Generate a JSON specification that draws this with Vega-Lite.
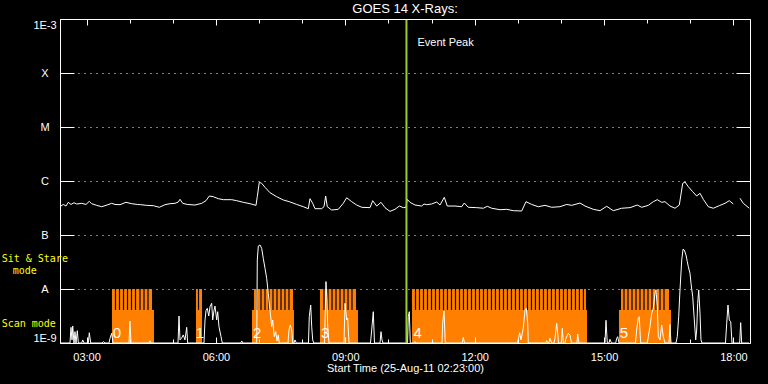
{
  "$schema": "https://vega.github.io/schema/vega-lite/v6.json",
  "autosize": {"type": "none"},
  "width": 690,
  "height": 324,
  "padding": {"left": 60, "top": 19, "right": 18, "bottom": 41},
  "background": "black",
  "title": {"text": "GOES 14 X-Rays:", "color": "white", "font": "Liberation Sans", "fontSize": 13, "fontWeight": "normal", "anchor": "middle", "offset": 2},
  "datasets": {
    "blocks": [
      {"id": "0", "t0": 3.589, "t1": 4.563, "s0": 3.589, "s1": 4.517, "lx": 3.705},
      {"id": "1", "t0": 5.537, "t1": 5.676, "s0": 5.537, "s1": 5.676, "lx": 5.630},
      {"id": "2", "t0": 6.835, "t1": 7.809, "s0": 6.882, "s1": 7.786, "lx": 6.956},
      {"id": "3", "t0": 8.412, "t1": 9.293, "s0": 8.412, "s1": 9.247, "lx": 8.535},
      {"id": "4", "t0": 10.546, "t1": 14.604, "s0": 10.546, "s1": 14.580, "lx": 10.677},
      {"id": "5", "t0": 15.345, "t1": 16.552, "s0": 15.392, "s1": 16.505, "lx": 15.457}
    ],
    "gaps": [
      {"g": 3.670}, {"g": 3.763}, {"g": 3.856}, {"g": 3.949}, {"g": 4.041}, {"g": 4.134}, {"g": 4.238}, {"g": 4.331}, {"g": 4.424},
      {"g": 5.595},
      {"g": 6.951}, {"g": 7.044}, {"g": 7.137}, {"g": 7.229}, {"g": 7.322}, {"g": 7.415}, {"g": 7.508}, {"g": 7.600}, {"g": 7.693},
      {"g": 8.505}, {"g": 8.598}, {"g": 8.691}, {"g": 8.783}, {"g": 8.876}, {"g": 8.969}, {"g": 9.062}, {"g": 9.154},
      {"g": 10.627}, {"g": 10.719}, {"g": 10.812}, {"g": 10.905}, {"g": 10.998}, {"g": 11.090}, {"g": 11.183}, {"g": 11.276}, {"g": 11.368}, {"g": 11.461},
      {"g": 11.554}, {"g": 11.647}, {"g": 11.739}, {"g": 11.832}, {"g": 11.925}, {"g": 12.018}, {"g": 12.110}, {"g": 12.203}, {"g": 12.296}, {"g": 12.388},
      {"g": 12.481}, {"g": 12.574}, {"g": 12.667}, {"g": 12.759}, {"g": 12.852}, {"g": 12.945}, {"g": 13.038}, {"g": 13.130}, {"g": 13.223}, {"g": 13.316},
      {"g": 13.408}, {"g": 13.501}, {"g": 13.594}, {"g": 13.687}, {"g": 13.779}, {"g": 13.872}, {"g": 13.965}, {"g": 14.058}, {"g": 14.150}, {"g": 14.243},
      {"g": 14.336}, {"g": 14.428}, {"g": 14.521},
      {"g": 15.461}, {"g": 15.554}, {"g": 15.647}, {"g": 15.740}, {"g": 15.832}, {"g": 15.925}, {"g": 16.018}, {"g": 16.110}, {"g": 16.203}, {"g": 16.296}, {"g": 16.389}
    ],
    "long": [
      {"s": "a", "t": 2.406, "v": 3.44e-7}, {"s": "a", "t": 2.460, "v": 3.68e-7}, {"s": "a", "t": 2.522, "v": 3.44e-7}, {"s": "a", "t": 2.576, "v": 4.03e-7},
      {"s": "a", "t": 2.638, "v": 3.68e-7}, {"s": "a", "t": 2.708, "v": 3.96e-7}, {"s": "a", "t": 2.771, "v": 3.75e-7}, {"s": "a", "t": 2.887, "v": 3.86e-7},
      {"s": "a", "t": 2.986, "v": 3.68e-7}, {"s": "a", "t": 3.063, "v": 4.20e-7}, {"s": "a", "t": 3.118, "v": 3.80e-7}, {"s": "a", "t": 3.234, "v": 3.54e-7},
      {"s": "a", "t": 3.350, "v": 3.34e-7}, {"s": "a", "t": 3.450, "v": 3.54e-7}, {"s": "a", "t": 3.582, "v": 3.86e-7}, {"s": "a", "t": 3.659, "v": 3.68e-7},
      {"s": "a", "t": 3.775, "v": 3.64e-7}, {"s": "a", "t": 3.914, "v": 4.03e-7}, {"s": "a", "t": 4.046, "v": 3.80e-7}, {"s": "a", "t": 4.176, "v": 3.68e-7},
      {"s": "a", "t": 4.255, "v": 3.64e-7}, {"s": "a", "t": 4.394, "v": 3.54e-7}, {"s": "a", "t": 4.547, "v": 3.49e-7}, {"s": "a", "t": 4.686, "v": 3.26e-7},
      {"s": "a", "t": 4.818, "v": 3.64e-7}, {"s": "a", "t": 4.934, "v": 3.80e-7}, {"s": "a", "t": 5.050, "v": 3.86e-7}, {"s": "a", "t": 5.127, "v": 4.08e-7},
      {"s": "a", "t": 5.166, "v": 4.58e-7}, {"s": "a", "t": 5.229, "v": 3.86e-7}, {"s": "a", "t": 5.335, "v": 3.68e-7}, {"s": "a", "t": 5.514, "v": 3.59e-7},
      {"s": "a", "t": 5.669, "v": 3.86e-7}, {"s": "a", "t": 5.769, "v": 4.32e-7}, {"s": "a", "t": 5.845, "v": 5.27e-7}, {"s": "a", "t": 5.938, "v": 5.12e-7},
      {"s": "a", "t": 6.054, "v": 4.70e-7}, {"s": "a", "t": 6.170, "v": 4.51e-7}, {"s": "a", "t": 6.365, "v": 4.51e-7}, {"s": "a", "t": 6.481, "v": 4.32e-7},
      {"s": "a", "t": 6.634, "v": 4.03e-7}, {"s": "a", "t": 6.789, "v": 3.80e-7}, {"s": "a", "t": 6.928, "v": 3.54e-7}, {"s": "a", "t": 6.958, "v": 5.12e-7},
      {"s": "a", "t": 7.005, "v": 9.46e-7}, {"s": "a", "t": 7.060, "v": 9.06e-7}, {"s": "a", "t": 7.137, "v": 7.64e-7}, {"s": "a", "t": 7.253, "v": 6.07e-7},
      {"s": "a", "t": 7.408, "v": 5.12e-7}, {"s": "a", "t": 7.561, "v": 4.45e-7}, {"s": "a", "t": 7.700, "v": 4.14e-7}, {"s": "a", "t": 7.872, "v": 3.68e-7},
      {"s": "a", "t": 8.025, "v": 3.34e-7}, {"s": "a", "t": 8.141, "v": 3.07e-7}, {"s": "a", "t": 8.180, "v": 4.70e-7}, {"s": "a", "t": 8.243, "v": 3.86e-7},
      {"s": "a", "t": 8.296, "v": 3.07e-7}, {"s": "a", "t": 8.451, "v": 3.07e-7}, {"s": "a", "t": 8.505, "v": 3.34e-7}, {"s": "a", "t": 8.544, "v": 5.27e-7},
      {"s": "a", "t": 8.581, "v": 3.34e-7}, {"s": "a", "t": 8.683, "v": 2.90e-7}, {"s": "a", "t": 8.836, "v": 2.99e-7}, {"s": "a", "t": 8.952, "v": 3.86e-7},
      {"s": "a", "t": 9.031, "v": 4.90e-7}, {"s": "a", "t": 9.147, "v": 4.14e-7}, {"s": "a", "t": 9.263, "v": 3.59e-7}, {"s": "a", "t": 9.379, "v": 3.26e-7},
      {"s": "a", "t": 9.572, "v": 3.21e-7}, {"s": "a", "t": 9.634, "v": 4.32e-7}, {"s": "a", "t": 9.727, "v": 3.44e-7}, {"s": "a", "t": 9.827, "v": 4.03e-7},
      {"s": "a", "t": 9.919, "v": 3.21e-7}, {"s": "a", "t": 10.035, "v": 2.74e-7}, {"s": "a", "t": 10.151, "v": 2.99e-7}, {"s": "a", "t": 10.251, "v": 3.44e-7},
      {"s": "a", "t": 10.344, "v": 3.21e-7}, {"s": "a", "t": 10.406, "v": 3.26e-7}, {"s": "a", "t": 10.436, "v": 4.58e-7}, {"s": "a", "t": 10.499, "v": 4.03e-7},
      {"s": "a", "t": 10.615, "v": 3.59e-7}, {"s": "a", "t": 10.770, "v": 3.44e-7}, {"s": "a", "t": 10.824, "v": 3.75e-7}, {"s": "a", "t": 10.886, "v": 3.64e-7},
      {"s": "a", "t": 11.002, "v": 3.75e-7}, {"s": "a", "t": 11.118, "v": 4.08e-7}, {"s": "a", "t": 11.195, "v": 3.59e-7}, {"s": "a", "t": 11.294, "v": 4.99e-7},
      {"s": "a", "t": 11.364, "v": 3.44e-7}, {"s": "a", "t": 11.543, "v": 3.44e-7}, {"s": "a", "t": 11.698, "v": 3.34e-7}, {"s": "a", "t": 11.758, "v": 3.91e-7},
      {"s": "a", "t": 11.851, "v": 3.26e-7}, {"s": "a", "t": 12.046, "v": 3.21e-7}, {"s": "a", "t": 12.199, "v": 3.13e-7}, {"s": "a", "t": 12.292, "v": 3.40e-7},
      {"s": "a", "t": 12.394, "v": 3.13e-7}, {"s": "a", "t": 12.586, "v": 2.94e-7}, {"s": "a", "t": 12.741, "v": 2.99e-7}, {"s": "a", "t": 12.895, "v": 2.82e-7},
      {"s": "a", "t": 13.089, "v": 2.78e-7}, {"s": "a", "t": 13.189, "v": 4.14e-7}, {"s": "a", "t": 13.321, "v": 3.68e-7}, {"s": "a", "t": 13.474, "v": 3.34e-7},
      {"s": "a", "t": 13.630, "v": 3.54e-7}, {"s": "a", "t": 13.785, "v": 3.26e-7}, {"s": "a", "t": 13.977, "v": 3.34e-7}, {"s": "a", "t": 14.133, "v": 3.68e-7},
      {"s": "a", "t": 14.249, "v": 3.54e-7}, {"s": "a", "t": 14.325, "v": 3.68e-7}, {"s": "a", "t": 14.441, "v": 3.91e-7}, {"s": "a", "t": 14.557, "v": 3.44e-7},
      {"s": "a", "t": 14.750, "v": 2.99e-7}, {"s": "a", "t": 14.905, "v": 2.82e-7}, {"s": "a", "t": 15.060, "v": 3.40e-7}, {"s": "a", "t": 15.213, "v": 2.82e-7},
      {"s": "a", "t": 15.408, "v": 3.13e-7}, {"s": "a", "t": 15.600, "v": 3.21e-7}, {"s": "a", "t": 15.770, "v": 3.59e-7}, {"s": "a", "t": 15.871, "v": 3.26e-7},
      {"s": "a", "t": 16.025, "v": 3.54e-7}, {"s": "a", "t": 16.141, "v": 4.14e-7}, {"s": "a", "t": 16.233, "v": 4.51e-7}, {"s": "a", "t": 16.335, "v": 4.03e-7},
      {"s": "a", "t": 16.412, "v": 4.14e-7}, {"s": "a", "t": 16.528, "v": 3.44e-7}, {"s": "a", "t": 16.644, "v": 3.13e-7}, {"s": "a", "t": 16.744, "v": 3.59e-7},
      {"s": "a", "t": 16.823, "v": 9.06e-7}, {"s": "a", "t": 16.876, "v": 9.58e-7}, {"s": "a", "t": 16.953, "v": 7.84e-7}, {"s": "a", "t": 17.054, "v": 6.34e-7},
      {"s": "a", "t": 17.147, "v": 5.27e-7}, {"s": "a", "t": 17.224, "v": 5.92e-7}, {"s": "a", "t": 17.300, "v": 4.58e-7}, {"s": "a", "t": 17.416, "v": 3.34e-7},
      {"s": "a", "t": 17.532, "v": 3.13e-7}, {"s": "a", "t": 17.671, "v": 3.49e-7}, {"s": "a", "t": 17.803, "v": 3.86e-7}, {"s": "a", "t": 17.903, "v": 4.32e-7},
      {"s": "a", "t": 17.996, "v": 3.75e-7},
      {"s": "b", "t": 18.151, "v": 4.78e-7}, {"s": "b", "t": 18.228, "v": 3.86e-7}, {"s": "b", "t": 18.367, "v": 3.13e-7}
    ],
    "short": [
      {"t": 2.406, "v": 1e-9}, {"t": 2.615, "v": 1e-9}, {"t": 2.638, "v": 1.95e-9}, {"t": 2.662, "v": 1.14e-9}, {"t": 2.678, "v": 2.07e-9},
      {"t": 2.708, "v": 1e-9}, {"t": 2.731, "v": 1.62e-9}, {"t": 2.754, "v": 1e-9}, {"t": 2.785, "v": 1.69e-9}, {"t": 2.808, "v": 1e-9},
      {"t": 2.887, "v": 1e-9}, {"t": 2.910, "v": 1.14e-9}, {"t": 2.940, "v": 1e-9}, {"t": 3.040, "v": 1e-9}, {"t": 3.063, "v": 1.55e-9},
      {"t": 3.095, "v": 1e-9}, {"t": 3.360, "v": 1e-9}, {"t": 3.387, "v": 1.06e-9}, {"t": 3.427, "v": 1e-9}, {"t": 3.520, "v": 1e-9},
      {"t": 3.543, "v": 1.22e-9}, {"t": 3.582, "v": 1.51e-9}, {"t": 3.612, "v": 1e-9}, {"t": 3.983, "v": 1e-9}, {"t": 4.006, "v": 2.55e-9},
      {"t": 4.030, "v": 1e-9}, {"t": 4.447, "v": 1e-9}, {"t": 4.470, "v": 1.10e-9}, {"t": 4.493, "v": 1e-9}, {"t": 5.120, "v": 1e-9},
      {"t": 5.143, "v": 3.16e-9}, {"t": 5.166, "v": 1.14e-9}, {"t": 5.205, "v": 1.24e-9}, {"t": 5.242, "v": 1.41e-9}, {"t": 5.282, "v": 1.14e-9},
      {"t": 5.321, "v": 1.95e-9}, {"t": 5.344, "v": 1e-9}, {"t": 5.722, "v": 1e-9}, {"t": 5.746, "v": 2.67e-9}, {"t": 5.769, "v": 3.97e-9},
      {"t": 5.799, "v": 4.39e-9}, {"t": 5.832, "v": 3.16e-9}, {"t": 5.862, "v": 4.70e-9}, {"t": 5.901, "v": 5.43e-9}, {"t": 5.924, "v": 2.67e-9},
      {"t": 5.954, "v": 3.97e-9}, {"t": 5.977, "v": 4.84e-9}, {"t": 6.017, "v": 2.67e-9}, {"t": 6.040, "v": 3.80e-9}, {"t": 6.070, "v": 2.00e-9},
      {"t": 6.117, "v": 1.31e-9}, {"t": 6.147, "v": 1e-9}, {"t": 6.574, "v": 1e-9}, {"t": 6.597, "v": 1.09e-9}, {"t": 6.627, "v": 1e-9},
      {"t": 6.945, "v": 1e-9}, {"t": 6.958, "v": 3.44e-8}, {"t": 6.982, "v": 6.25e-8}, {"t": 7.021, "v": 6.53e-8}, {"t": 7.060, "v": 5.67e-8},
      {"t": 7.097, "v": 3.70e-8}, {"t": 7.137, "v": 2.42e-8}, {"t": 7.176, "v": 1.58e-8}, {"t": 7.213, "v": 8.33e-9}, {"t": 7.253, "v": 4.08e-9},
      {"t": 7.292, "v": 2.00e-9}, {"t": 7.315, "v": 2.67e-9}, {"t": 7.352, "v": 1.31e-9}, {"t": 7.385, "v": 1.62e-9}, {"t": 7.415, "v": 1.09e-9},
      {"t": 7.445, "v": 1.41e-9}, {"t": 7.468, "v": 1e-9}, {"t": 7.670, "v": 1e-9}, {"t": 7.693, "v": 1.74e-9}, {"t": 7.724, "v": 2.15e-9},
      {"t": 7.756, "v": 1.74e-9}, {"t": 7.779, "v": 1e-9}, {"t": 7.810, "v": 1e-9}, {"t": 7.833, "v": 1.14e-9}, {"t": 7.863, "v": 1e-9},
      {"t": 8.145, "v": 1e-9}, {"t": 8.164, "v": 3.07e-9}, {"t": 8.197, "v": 5.05e-9}, {"t": 8.220, "v": 2.00e-9}, {"t": 8.243, "v": 1.14e-9},
      {"t": 8.266, "v": 1e-9}, {"t": 8.517, "v": 1e-9}, {"t": 8.551, "v": 1.37e-8}, {"t": 8.574, "v": 6.25e-9}, {"t": 8.591, "v": 2.00e-9},
      {"t": 8.621, "v": 1e-9}, {"t": 8.969, "v": 1e-9}, {"t": 8.992, "v": 5.43e-9}, {"t": 9.031, "v": 2.67e-9}, {"t": 9.054, "v": 2.87e-9},
      {"t": 9.085, "v": 1e-9}, {"t": 9.583, "v": 1e-9}, {"t": 9.611, "v": 1.74e-9}, {"t": 9.648, "v": 3.80e-9}, {"t": 9.676, "v": 1e-9},
      {"t": 9.804, "v": 1e-9}, {"t": 9.827, "v": 1.62e-9}, {"t": 9.850, "v": 1.14e-9}, {"t": 9.873, "v": 1e-9}, {"t": 10.441, "v": 1e-9},
      {"t": 10.460, "v": 3.07e-9}, {"t": 10.483, "v": 3.80e-9}, {"t": 10.506, "v": 1e-9}, {"t": 10.592, "v": 1e-9}, {"t": 10.615, "v": 1.06e-9},
      {"t": 10.638, "v": 1e-9}, {"t": 11.241, "v": 1e-9}, {"t": 11.257, "v": 2.32e-9}, {"t": 11.288, "v": 3.91e-9}, {"t": 11.318, "v": 1e-9},
      {"t": 11.712, "v": 1e-9}, {"t": 11.735, "v": 1.27e-9}, {"t": 11.763, "v": 1e-9}, {"t": 12.992, "v": 1e-9}, {"t": 13.043, "v": 1.55e-9},
      {"t": 13.073, "v": 1.14e-9}, {"t": 13.126, "v": 1.87e-9}, {"t": 13.166, "v": 4.08e-9}, {"t": 13.196, "v": 4.39e-9}, {"t": 13.229, "v": 2.32e-9},
      {"t": 13.242, "v": 1e-9}, {"t": 13.646, "v": 1e-9}, {"t": 13.669, "v": 1.10e-9}, {"t": 13.699, "v": 1e-9}, {"t": 13.722, "v": 1e-9},
      {"t": 13.745, "v": 1.22e-9}, {"t": 13.785, "v": 1e-9}, {"t": 13.838, "v": 1e-9}, {"t": 13.861, "v": 1.22e-9}, {"t": 13.901, "v": 2.32e-9},
      {"t": 13.924, "v": 1.51e-9}, {"t": 13.943, "v": 1e-9}, {"t": 14.008, "v": 1e-9}, {"t": 14.031, "v": 1.87e-9}, {"t": 14.054, "v": 1e-9},
      {"t": 14.093, "v": 1e-9}, {"t": 14.116, "v": 1.22e-9}, {"t": 14.170, "v": 1.51e-9}, {"t": 14.209, "v": 1.41e-9}, {"t": 14.244, "v": 1e-9},
      {"t": 14.371, "v": 1e-9}, {"t": 14.388, "v": 1.47e-9}, {"t": 14.418, "v": 1e-9}, {"t": 15.021, "v": 1e-9}, {"t": 15.044, "v": 2.63e-9},
      {"t": 15.074, "v": 1e-9}, {"t": 15.113, "v": 1e-9}, {"t": 15.136, "v": 1.17e-9}, {"t": 15.171, "v": 1e-9}, {"t": 15.269, "v": 1e-9},
      {"t": 15.292, "v": 1.22e-9}, {"t": 15.315, "v": 1.31e-9}, {"t": 15.345, "v": 1e-9}, {"t": 15.727, "v": 1e-9}, {"t": 15.755, "v": 1.74e-9},
      {"t": 15.792, "v": 2.87e-9}, {"t": 15.815, "v": 3.07e-9}, {"t": 15.848, "v": 1e-9}, {"t": 16.002, "v": 1e-9}, {"t": 16.025, "v": 1.31e-9},
      {"t": 16.064, "v": 2.00e-9}, {"t": 16.104, "v": 3.55e-9}, {"t": 16.141, "v": 4.39e-9}, {"t": 16.180, "v": 8.33e-9}, {"t": 16.203, "v": 9.58e-9},
      {"t": 16.233, "v": 4.70e-9}, {"t": 16.257, "v": 1.31e-9}, {"t": 16.296, "v": 1.14e-9}, {"t": 16.335, "v": 2.15e-9}, {"t": 16.372, "v": 1.31e-9},
      {"t": 16.412, "v": 1e-9}, {"t": 16.505, "v": 1e-9}, {"t": 16.528, "v": 2.2e-9}, {"t": 16.551, "v": 1e-9}, {"t": 16.667, "v": 1e-9},
      {"t": 16.697, "v": 1.31e-9}, {"t": 16.730, "v": 3.07e-9}, {"t": 16.760, "v": 9.58e-9}, {"t": 16.800, "v": 3.44e-8}, {"t": 16.830, "v": 5.44e-8},
      {"t": 16.860, "v": 5.27e-8}, {"t": 16.899, "v": 4.26e-8}, {"t": 16.930, "v": 3.20e-8}, {"t": 16.953, "v": 2.59e-8}, {"t": 16.992, "v": 1.95e-8},
      {"t": 17.015, "v": 1.28e-8}, {"t": 17.055, "v": 7.20e-9}, {"t": 17.092, "v": 2.67e-9}, {"t": 17.124, "v": 1.14e-9}, {"t": 17.147, "v": 1.74e-9},
      {"t": 17.170, "v": 5.43e-9}, {"t": 17.194, "v": 9.58e-9}, {"t": 17.224, "v": 3.55e-9}, {"t": 17.247, "v": 1.14e-9}, {"t": 17.270, "v": 1e-9},
      {"t": 17.815, "v": 1e-9}, {"t": 17.843, "v": 2.32e-9}, {"t": 17.873, "v": 5.05e-9}, {"t": 17.903, "v": 2.67e-9}, {"t": 17.936, "v": 2.48e-9},
      {"t": 17.966, "v": 1e-9}, {"t": 18.144, "v": 1e-9}, {"t": 18.167, "v": 2.38e-9}, {"t": 18.190, "v": 1e-9}, {"t": 18.360, "v": 1e-9}
    ],
    "event": [{"t": 10.417, "label": "Event Peak", "v": 3.59e-4}],
    "modes": [
      {"txt": "Sit & Stare", "t": 1.031, "v": 3.52e-8},
      {"txt": "mode", "t": 1.287, "v": 2.13e-8},
      {"txt": "Scan mode", "t": 1.031, "v": 2.25e-9}
    ]
  },
  "resolve": {"axis": {"x": "independent", "y": "independent"}},
  "layer": [
    {
      "data": {"name": "blocks"},
      "mark": {"type": "rect", "color": "#ff8000"},
      "encoding": {
        "x": {"field": "t0", "type": "quantitative", "scale": {"domain": [2.3833, 18.3833], "nice": false, "zero": false},
          "axis": {"orient": "bottom", "values": [3, 6, 9, 12, 15, 18], "labelExpr": "(datum.value < 10 ? '0' : '') + datum.value + ':00'",
            "tickSize": -6, "labelPadding": 14, "labelFlush": false, "labelOverlap": false, "title": "Start Time (25-Aug-11 02:23:00)", "titlePadding": 0, "zindex": 1}},
        "x2": {"field": "t1"},
        "y": {"datum": 1e-9, "type": "quantitative", "scale": {"type": "log", "domain": [1e-9, 1e-3], "nice": false},
          "axis": {"orient": "left", "values": [1e-9, 1e-8, 1e-7, 1e-6, 1e-5, 1e-4, 1e-3],
            "labelExpr": "['1E-9','A','B','C','M','X','1E-3'][round(log(datum.value)/LN10)+9]",
            "tickSize": -14, "labelPadding": 29.5, "labelAlign": "center", "labelFlush": true, "labelOverlap": false,
            "grid": true, "gridColor": "white", "gridDash": [1, 5], "gridOpacity": 1, "gridWidth": 1, "title": null, "zindex": 0}},
        "y2": {"datum": 4.1e-9}
      }
    },
    {
      "data": {"name": "blocks"},
      "mark": {"type": "rect", "color": "#ff8000"},
      "encoding": {
        "x": {"field": "s0", "type": "quantitative", "scale": {"domain": [2.3833, 18.3833], "nice": false, "zero": false},
          "axis": {"orient": "bottom", "values": [3, 4, 5, 6, 7, 8, 9, 10, 11, 12, 13, 14, 15, 16, 17, 18], "tickSize": -4, "labels": false, "domain": false, "title": null, "zindex": 1}},
        "x2": {"field": "s1"},
        "y": {"datum": 4.0e-9, "type": "quantitative", "scale": {"type": "log", "domain": [1e-9, 1e-3], "nice": false},
          "axis": {"orient": "right", "values": [1e-9, 1e-8, 1e-7, 1e-6, 1e-5, 1e-4, 1e-3], "tickSize": -14, "labels": false, "title": null, "zindex": 1}},
        "y2": {"datum": 1e-8}
      }
    },
    {
      "data": {"name": "gaps"},
      "mark": {"type": "rule", "color": "black", "strokeWidth": 1.2},
      "encoding": {
        "x": {"field": "g", "type": "quantitative", "scale": {"domain": [2.3833, 18.3833], "nice": false, "zero": false},
          "axis": {"orient": "top", "values": [3, 6, 9, 12, 15, 18], "tickSize": -6, "labels": false, "title": null, "zindex": 1}},
        "y": {"datum": 4.1e-9, "type": "quantitative", "scale": {"type": "log", "domain": [1e-9, 1e-3], "nice": false}, "axis": null},
        "y2": {"datum": 1e-8}
      }
    },
    {
      "data": {"name": "long"},
      "mark": {"type": "line", "color": "white", "strokeWidth": 1},
      "encoding": {
        "x": {"field": "t", "type": "quantitative", "scale": {"domain": [2.3833, 18.3833], "nice": false, "zero": false},
          "axis": {"orient": "top", "values": [3, 4, 5, 6, 7, 8, 9, 10, 11, 12, 13, 14, 15, 16, 17, 18], "tickSize": -4, "labels": false, "domain": false, "title": null, "zindex": 1}},
        "y": {"field": "v", "type": "quantitative", "scale": {"type": "log", "domain": [1e-9, 1e-3], "nice": false}, "axis": null},
        "detail": {"field": "s"}
      }
    },
    {
      "data": {"name": "short"},
      "mark": {"type": "line", "color": "white", "strokeWidth": 1},
      "encoding": {
        "x": {"field": "t", "type": "quantitative", "scale": {"domain": [2.3833, 18.3833], "nice": false, "zero": false}, "axis": null},
        "y": {"field": "v", "type": "quantitative", "scale": {"type": "log", "domain": [1e-9, 1e-3], "nice": false}, "axis": null}
      }
    },
    {
      "data": {"name": "event"},
      "mark": {"type": "rule", "color": "#9acd32", "strokeWidth": 2},
      "encoding": {
        "x": {"field": "t", "type": "quantitative", "scale": {"domain": [2.3833, 18.3833], "nice": false, "zero": false}, "axis": null}
      }
    },
    {
      "data": {"name": "event"},
      "mark": {"type": "text", "color": "white", "font": "Liberation Sans", "fontSize": 11, "align": "left", "baseline": "middle", "dx": 11},
      "encoding": {
        "x": {"field": "t", "type": "quantitative", "scale": {"domain": [2.3833, 18.3833], "nice": false, "zero": false}, "axis": null},
        "y": {"field": "v", "type": "quantitative", "scale": {"type": "log", "domain": [1e-9, 1e-3], "nice": false}, "axis": null},
        "text": {"field": "label"}
      }
    },
    {
      "data": {"name": "blocks"},
      "mark": {"type": "text", "color": "white", "font": "Liberation Sans", "fontSize": 15, "align": "center", "baseline": "middle"},
      "encoding": {
        "x": {"field": "lx", "type": "quantitative", "scale": {"domain": [2.3833, 18.3833], "nice": false, "zero": false}, "axis": null},
        "y": {"datum": 1.53e-9, "type": "quantitative", "scale": {"type": "log", "domain": [1e-9, 1e-3], "nice": false}, "axis": null},
        "text": {"field": "id"}
      }
    },
    {
      "data": {"name": "modes"},
      "mark": {"type": "text", "color": "#ffff00", "font": "DejaVu Sans Mono", "fontSize": 10, "align": "left", "baseline": "middle"},
      "encoding": {
        "x": {"field": "t", "type": "quantitative", "scale": {"domain": [2.3833, 18.3833], "nice": false, "zero": false}, "axis": null},
        "y": {"field": "v", "type": "quantitative", "scale": {"type": "log", "domain": [1e-9, 1e-3], "nice": false}, "axis": null},
        "text": {"field": "txt"}
      }
    }
  ],
  "config": {
    "view": {"stroke": null},
    "axis": {"domainWidth": 1, "tickWidth": 1, "domainColor": "white", "tickColor": "white", "labelColor": "white", "titleColor": "white",
      "labelFont": "Liberation Sans", "titleFont": "Liberation Sans", "labelFontSize": 11, "titleFontSize": 11, "titleFontWeight": "normal", "grid": false}
  }
}
